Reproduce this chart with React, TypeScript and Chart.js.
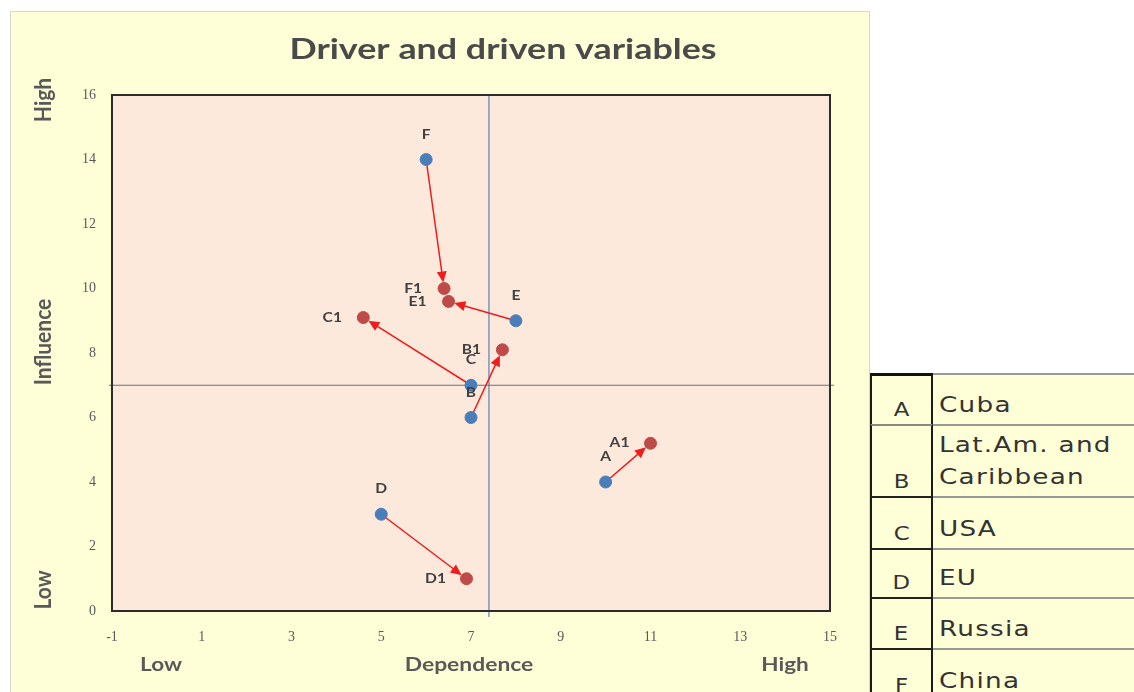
import React, { useEffect, useRef } from "react";
import { Chart, registerables } from "chart.js";

Chart.register(...registerables);

// ---- data ----
const codes = ["A", "B", "C", "D", "E", "F"];
const names = ["Cuba", "Lat.Am. and\nCaribbean", "USA", "EU", "Russia", "China"];
const beforeX = [10, 7, 7, 5, 8, 6];
const beforeY = [4, 6, 7, 3, 9, 14];
const afterLabels = ["A1", "B1", "C1", "D1", "E1", "F1"];
const afterX = [11, 7.7, 4.6, 6.9, 6.5, 6.4];
const afterY = [5.2, 8.1, 9.1, 1, 9.6, 10];
const xTicks = [-1, 1, 3, 5, 7, 9, 11, 13, 15];
const yTicks = [0, 2, 4, 6, 8, 10, 12, 14, 16];
const refX = 7.4;
const refY = 7;
const titleText = "Driver and driven variables";
const xAxisTexts = ["Low", "Dependence", "High"];
const yAxisTexts = ["Low", "Influence", "High"];

const rowHeights = [51, 72, 52, 49, 51, 52];

const BLUE = "#4a7ebb";
const RED = "#be4b48";
const ARROW = "#ee1d1d";

function drawArrow(ctx: CanvasRenderingContext2D, x1: number, y1: number, x2: number, y2: number) {
  const ang = Math.atan2(y2 - y1, x2 - x1);
  const ex = x2 - Math.cos(ang) * 6;
  const ey = y2 - Math.sin(ang) * 6;
  ctx.save();
  ctx.strokeStyle = ARROW;
  ctx.fillStyle = ARROW;
  ctx.lineWidth = 1.5;
  ctx.beginPath();
  ctx.moveTo(x1, y1);
  ctx.lineTo(ex - Math.cos(ang) * 6, ey - Math.sin(ang) * 6);
  ctx.stroke();
  const L = 11, W = 5;
  ctx.beginPath();
  ctx.moveTo(ex, ey);
  ctx.lineTo(ex - L * Math.cos(ang) + W * Math.sin(ang), ey - L * Math.sin(ang) - W * Math.cos(ang));
  ctx.lineTo(ex - L * Math.cos(ang) - W * Math.sin(ang), ey - L * Math.sin(ang) + W * Math.cos(ang));
  ctx.closePath();
  ctx.fill();
  ctx.restore();
}

function wideText(ctx: CanvasRenderingContext2D, text: string, x: number, y: number, sx: number) {
  ctx.save();
  ctx.translate(x, y);
  ctx.scale(sx, 1);
  ctx.fillText(text, 0, 0);
  ctx.restore();
}

const decorPlugin = {
  id: "decor",
  beforeDatasetsDraw(chart: any) {
    const { ctx, chartArea: a, scales } = chart;
    const xs = scales.x, ys = scales.y;
    ctx.save();
    ctx.fillStyle = "#fde9db";
    ctx.fillRect(a.left, a.top, a.right - a.left, a.bottom - a.top);
    ctx.strokeStyle = "#5b7fb5";
    ctx.lineWidth = 1.2;
    const vx = xs.getPixelForValue(refX);
    const hy = ys.getPixelForValue(refY);
    ctx.beginPath();
    ctx.moveTo(vx, a.top);
    ctx.lineTo(vx, a.bottom + 6);
    ctx.stroke();
    ctx.strokeStyle = "#6a6f7a";
    ctx.beginPath();
    ctx.moveTo(a.left - 3, hy);
    ctx.lineTo(a.right + 4, hy);
    ctx.stroke();
    ctx.strokeStyle = "#2b2b2b";
    ctx.lineWidth = 2;
    ctx.strokeRect(a.left, a.top, a.right - a.left, a.bottom - a.top);
    for (let i = 0; i < codes.length; i++) {
      drawArrow(
        ctx,
        xs.getPixelForValue(beforeX[i]),
        ys.getPixelForValue(beforeY[i]),
        xs.getPixelForValue(afterX[i]),
        ys.getPixelForValue(afterY[i])
      );
    }
    ctx.restore();
  },
  afterDatasetsDraw(chart: any) {
    const { ctx, scales } = chart;
    const xs = scales.x, ys = scales.y;
    ctx.save();
    ctx.fillStyle = "#404040";
    ctx.font = "bold 13px Lato";
    ctx.textAlign = "center";
    ctx.textBaseline = "middle";
    for (let i = 0; i < codes.length; i++) {
      wideText(ctx, codes[i], xs.getPixelForValue(beforeX[i]), ys.getPixelForValue(beforeY[i]) - 25, 1.2);
      wideText(ctx, afterLabels[i], xs.getPixelForValue(afterX[i]) - 31, ys.getPixelForValue(afterY[i]), 1.2);
    }
    // title
    ctx.fillStyle = "#4a4a4a";
    ctx.font = "bold 28px Lato";
    wideText(ctx, titleText, 493, 38, 1.28);
    // x axis texts
    ctx.fillStyle = "#595959";
    ctx.font = "bold 18px Lato";
    wideText(ctx, xAxisTexts[0], 151, 653, 1.25);
    wideText(ctx, xAxisTexts[1], 459, 653, 1.27);
    wideText(ctx, xAxisTexts[2], 775, 653, 1.25);
    // y axis texts
    ctx.font = "bold 20px Lato";
    const yPos = [578, 330, 88];
    for (let i = 0; i < 3; i++) {
      ctx.save();
      ctx.translate(34, yPos[i]);
      ctx.rotate(-Math.PI / 2);
      ctx.scale(1.05, 1.15);
      ctx.fillText(yAxisTexts[i], 0, 0);
      ctx.restore();
    }
    ctx.restore();
  },
};

function ChartView() {
  const ref = useRef<HTMLCanvasElement>(null);
  useEffect(() => {
    if (!ref.current) return;
    const chart = new Chart(ref.current, {
      type: "scatter",
      data: {
        datasets: [
          {
            label: "before",
            data: beforeX.map((x, i) => ({ x, y: beforeY[i] })),
            backgroundColor: BLUE,
            borderColor: BLUE,
            pointRadius: 6,
            pointHoverRadius: 6,
          },
          {
            label: "after",
            data: afterX.map((x, i) => ({ x, y: afterY[i] })),
            backgroundColor: RED,
            borderColor: RED,
            pointRadius: 6,
            pointHoverRadius: 6,
          },
        ],
      },
      options: {
        responsive: false,
        animation: false,
        layout: { padding: { top: 83, right: 40, left: 0, bottom: 0 } },
        plugins: { legend: { display: false }, tooltip: { enabled: false }, title: { display: false } },
        scales: {
          x: {
            type: "linear",
            min: -1,
            max: 15,
            grid: { display: false, drawTicks: false },
            border: { display: false },
            ticks: { color: "#595959", font: { family: "Liberation Serif", size: 14 }, padding: 18, autoSkip: false },
            afterBuildTicks: (s: any) => {
              s.ticks = xTicks.map((v) => ({ value: v }));
            },
            afterFit: (s: any) => {
              s.height = 81;
            },
          },
          y: {
            type: "linear",
            min: 0,
            max: 16,
            grid: { display: false, drawTicks: false },
            border: { display: false },
            ticks: { color: "#595959", font: { family: "Liberation Serif", size: 14 }, padding: 16, autoSkip: false },
            afterBuildTicks: (s: any) => {
              s.ticks = yTicks.map((v) => ({ value: v }));
            },
            afterFit: (s: any) => {
              s.width = 102;
            },
          },
        },
      },
      plugins: [decorPlugin],
    });
    return () => chart.destroy();
  }, []);
  return (
    <canvas
      ref={ref}
      width={860}
      height={680}
      style={{ position: "absolute", left: 10, top: 12, width: 860, height: 680 }}
    />
  );
}

export default function App() {
  let top = 373;
  const rows = codes.map((c, i) => {
    const h = rowHeights[i];
    const el = (
      <div key={c} style={{ position: "absolute", left: 870, top, width: 264, height: h }}>
        <div
          style={{
            position: "absolute",
            left: 0,
            top: 0,
            width: 63,
            height: h,
            borderLeft: "2px solid #1a1a1a",
            borderRight: "2px solid #1a1a1a",
            borderTop: i === 0 ? "3px solid #111" : i === 1 ? "2px solid #888" : "2px solid #222",
            boxSizing: "border-box",
            display: "flex",
            alignItems: "flex-end",
            justifyContent: "center",
            paddingBottom: 3,
          }}
        >
          <span
            style={{
              fontFamily: "DejaVu Sans",
              fontSize: 19,
              color: "#333",
              lineHeight: "24px",
              display: "inline-block",
              transform: "scaleX(1.2)",
            }}
          >
            {c}
          </span>
        </div>
        <div
          style={{
            position: "absolute",
            left: 63,
            top: 0,
            width: 220,
            height: h,
            borderTop: "2px solid #999",
            boxSizing: "border-box",
            display: "flex",
            alignItems: "flex-end",
            paddingLeft: 6,
            paddingBottom: 3,
          }}
        >
          <span
            style={{
              fontFamily: "DejaVu Sans",
              fontSize: 21,
              color: "#333",
              letterSpacing: 1,
              lineHeight: "32px",
              whiteSpace: "pre-line",
              display: "inline-block",
              transform: "scaleX(1.25)",
              transformOrigin: "left center",
            }}
          >
            {names[i]}
          </span>
        </div>
      </div>
    );
    top += h;
    return el;
  });
  return (
    <div style={{ position: "fixed", left: 0, top: 0, width: 1134, height: 692, background: "#fff", overflow: "hidden" }}>
      <div
        style={{
          position: "absolute",
          left: 10,
          top: 11,
          width: 858,
          height: 700,
          background: "#ffffd7",
          border: "1px solid #d6d6d0",
        }}
      />
      <div style={{ position: "absolute", left: 870, top: 373, width: 264, height: 330, background: "#ffffd7" }} />
      <ChartView />
      {rows}
    </div>
  );
}
